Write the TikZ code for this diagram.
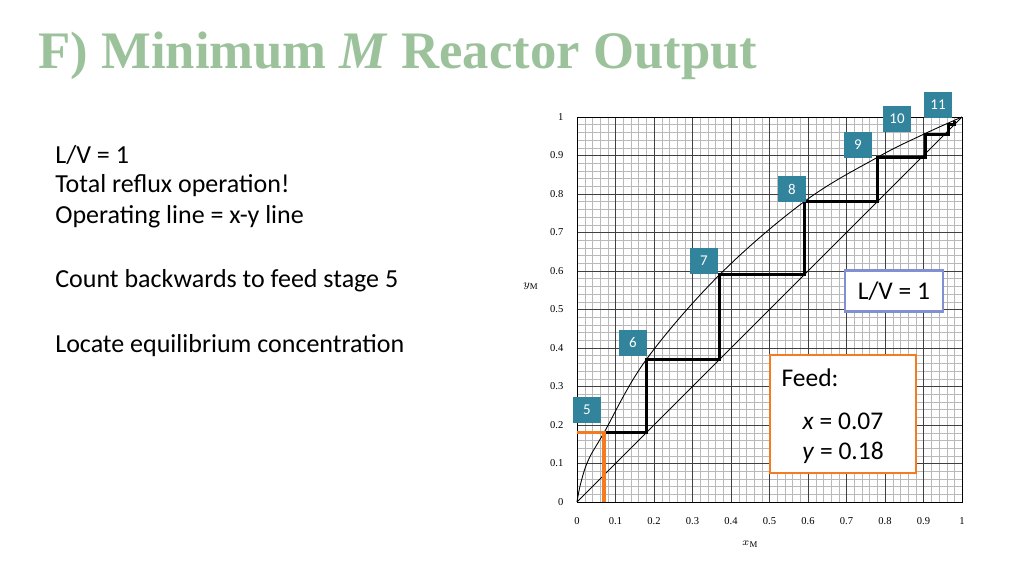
\documentclass[tikz,border=0pt]{standalone}
\usepackage{fontspec}
\setmainfont{Liberation Serif}
\newfontfamily\bodyfont{Carlito}
\definecolor{titlegreen}{HTML}{9CC29C}
\definecolor{stageteal}{HTML}{31849B}
\definecolor{feedorange}{HTML}{F47B20}
\definecolor{lvblue}{HTML}{8090D0}
\tikzset{
  stagebox/.style={fill=stageteal, text=white, font=\bodyfont\fontsize{8.5}{9}\selectfont, minimum width=0.56cm, minimum height=0.52cm, inner sep=0pt},
  bodytext/.style={anchor=west, font=\bodyfont\fontsize{14.8}{16}\selectfont, inner sep=0pt},
  ticklabel/.style={font=\fontsize{6}{7}\selectfont, inner sep=1pt}
}
\begin{document}
\begin{tikzpicture}[>=latex]
\useasboundingbox (0,0) rectangle (20.48,11.52);

\node (title) [anchor=west, text=titlegreen, font=\bfseries\fontsize{30}{34}\selectfont, inner sep=0pt] at (0.76,10.4) {F) Minimum \textit{M} Reactor Output};

\node (t1) [bodytext] at (1.1,8.42) {L/V = 1};
\node (t2) [bodytext] at (1.1,7.8) {Total reflux operation!};
\node (t3) [bodytext] at (1.1,7.18) {Operating line = x-y line};
\node (t4) [bodytext] at (1.1,5.9) {Count backwards to feed stage 5};
\node (t5) [bodytext] at (1.1,4.6) {Locate equilibrium concentration};

\begin{scope}[shift={(11.54,1.48)}, x=7.7cm, y=7.7cm]
\draw [gray!55, line width=0.2pt, step=0.02] (0,0) grid (1,1);
\draw [gray!50!black, line width=0.5pt, step=0.1] (0,0) grid (1,1);
\draw [line width=0.5pt] (0,0) rectangle (1,1);

\foreach \v in {0.1,0.2,0.3,0.4,0.5,0.6,0.7,0.8,0.9}
{
    \node [ticklabel] at (\v,-0.05) {\v};
    \node [ticklabel, anchor=east] at (-0.03,\v) {\v};
}
\node [ticklabel] at (0,-0.05) {0};
\node [ticklabel] at (1,-0.05) {1};
\node [ticklabel, anchor=east] at (-0.03,0) {0};
\node [ticklabel, anchor=east] at (-0.03,1) {1};
\node (ylab) [ticklabel] at (-0.12,0.56) {$y_{\mathrm{M}}$};
\node (xlab) [ticklabel] at (0.45,-0.11) {$x_{\mathrm{M}}$};

% x-y line and equilibrium curve
\draw [line width=0.5pt] (0,0) -- (1,1);
\draw [line width=0.5pt] plot [smooth, tension=0.6] coordinates {(0,0) (0.01,0.05) (0.03,0.11) (0.07,0.18) (0.18,0.37) (0.37,0.59) (0.59,0.78) (0.78,0.895) (0.9,0.955) (1,1)};

% stages
\draw [line width=1.6pt] (0.07,0.18) -- (0.18,0.18) -- (0.18,0.37) -- (0.37,0.37) -- (0.37,0.59) -- (0.59,0.59) -- (0.59,0.78) -- (0.78,0.78) -- (0.78,0.895) -- (0.905,0.895) -- (0.905,0.955) -- (0.965,0.955) -- (0.965,0.98) -- (0.98,0.98) -- (0.98,0.99);

% feed
\draw [feedorange, line width=2pt] (0,0.18) -- (0.07,0.18) -- (0.07,0);
\end{scope}

\node (s5) [stagebox] at (11.74,3.32) {5};
\node (s6) [stagebox] at (12.66,4.66) {6};
\node (s7) [stagebox] at (14.08,6.3) {7};
\node (s8) [stagebox] at (15.84,7.74) {8};
\node (s9) [stagebox] at (17.16,8.62) {9};
\node (s10) [stagebox] at (17.94,9.14) {10};
\node (s11) [stagebox] at (18.76,9.42) {11};

\node (lv) [draw=lvblue, line width=1.2pt, fill=white, minimum width=1.96cm, minimum height=0.82cm, font=\bodyfont\fontsize{14.5}{16}\selectfont] at (17.88,5.7) {L/V = 1};

\node (feed) [draw=feedorange, line width=1.5pt, fill=white, minimum width=2.92cm, minimum height=2.36cm] at (16.86,3.24) {};
\node (feedlab) [font=\bodyfont\fontsize{14.5}{16}\selectfont] at (16.2,3.96) {Feed:};
\node (feedx) [font=\bodyfont\fontsize{14.5}{16}\selectfont] at (16.86,3.1) {\textit{x} = 0.07};
\node (feedy) [font=\bodyfont\fontsize{14.5}{16}\selectfont] at (16.86,2.46) {\textit{y} = 0.18};
\end{tikzpicture}
\end{document}
